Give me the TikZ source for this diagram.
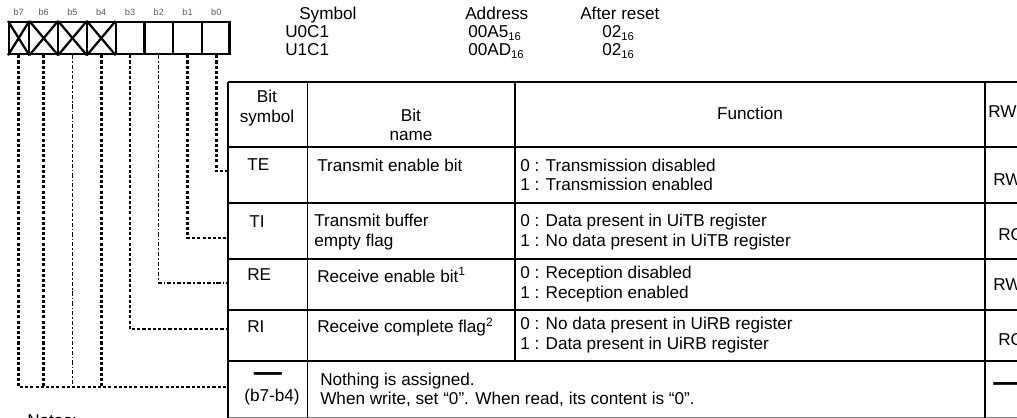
\documentclass[tikz,border=0pt]{standalone}
\usepackage{fontspec}
\setmainfont{Liberation Sans}
\usepackage{tikz}
\usetikzlibrary{shapes.multipart,positioning}
\usetikzlibrary{arrows.meta}
\newcommand{\hexsix}{\raisebox{-0.25ex}{\fontsize{8}{8}\selectfont 16}}

\begin{document}
\begin{tikzpicture}[x=0.025cm, y=-0.025cm,
  every node/.style={font=\fontsize{12.2}{13.8}\selectfont, inner sep=0pt},
  bitlabel/.style={font=\fontsize{6.5}{7}\selectfont, text=black!65},
  bitline/.style={line width=2pt, dash pattern=on 2.2pt off 1.5pt},
  thinbitline/.style={line width=0.9pt, dash pattern=on 3pt off 1.4pt on 1.2pt off 1.4pt},
  tabthick/.style={line width=1.6pt},
  tabthin/.style={line width=0.7pt}
  ]
  \useasboundingbox (0,0) rectangle (1017,418);
  \clip (0,0) rectangle (1017,418);

  \node (reg)
        [rectangle split, rectangle split horizontal,
         rectangle split parts=8, draw, line width=1.6pt,
         text width=0.477cm, text height=0.80cm, text depth=0pt,
         rectangle split empty part width=0.477cm,
         rectangle split empty part height=0.80cm,
         rectangle split empty part depth=0pt,
         anchor=north west
        ] at (8,21) {};
  \draw[line width=1.6pt] (reg.north west) -- (reg.one split south)
                          (reg.south west) -- (reg.one split north);
  \draw[line width=1.6pt] (reg.one split north) -- (reg.two split south)
                          (reg.one split south) -- (reg.two split north);
  \draw[line width=1.6pt] (reg.two split north) -- (reg.three split south)
                          (reg.two split south) -- (reg.three split north);
  \draw[line width=1.6pt] (reg.three split north) -- (reg.four split south)
                          (reg.three split south) -- (reg.four split north);

  \node (lb7) [bitlabel, above=1.2mm of reg.one north] {b7};
  \node (lb6) [bitlabel, above=1.2mm of reg.two north] {b6};
  \node (lb5) [bitlabel, above=1.2mm of reg.three north] {b5};
  \node (lb4) [bitlabel, above=1.2mm of reg.four north] {b4};
  \node (lb3) [bitlabel, above=1.2mm of reg.five north] {b3};
  \node (lb2) [bitlabel, above=1.2mm of reg.six north] {b2};
  \node (lb1) [bitlabel, above=1.2mm of reg.seven north] {b1};
  \node (lb0) [bitlabel, above=1.2mm of reg.eight north] {b0};

  \node (symHead) [anchor=base west] at (299,20) {Symbol};
  \node (symU0) [anchor=base west] at (285,38) {U0C1};
  \node (symU1) [anchor=base west] at (285,56) {U1C1};
  \node (adrHead) [anchor=base west] at (465,20) {Address};
  \node (adrU0) [anchor=base west] at (468,38) {00A5\hexsix};
  \node (adrU1) [anchor=base west] at (468,56) {00AD\hexsix};
  \node (rstHead) [anchor=base west] at (580,20) {After reset};
  \node (rstU0) [anchor=base west] at (602,38) {02\hexsix};
  \node (rstU1) [anchor=base west] at (602,56) {02\hexsix};

  % table
  \draw[tabthick] (228,82) -- (1030,82);
  \draw[tabthick] (228,147) -- (1030,147);
  \draw[tabthick] (228,203) -- (1030,203);
  \draw[tabthick] (228,259) -- (1030,259);
  \draw[tabthick] (228,310) -- (1030,310);
  \draw[tabthick] (228,361) -- (1030,361);
  \draw[tabthin, black!50] (228,417.5) -- (1030,417.5);
  \draw[tabthick] (228,82) -- (228,420);
  \draw[tabthin] (307,82) -- (307,420);
  \draw[tabthick] (515,82) -- (515,361);
  \draw[tabthick] (985,82) -- (985,420);

  \node (hSym) [align=center] at (267,108) {Bit\\symbol};
  \node (hName) [align=center] at (411,125) {Bit\\name};
  \node (hFunc) at (750,113) {Function};
  \node (hRW) [anchor=west] at (988,112) {RW};

  \node (teSym) [anchor=west] at (247,165) {TE};
  \node (teName) [anchor=west] at (317,165) {Transmit enable bit};
  \node (teFunc) [anchor=west, align=left] at (520,175)
        {0 : Transmission disabled\\1 : Transmission enabled};
  \node (teRW) [anchor=west] at (993,180) {RW};

  \node (tiSym) [anchor=west] at (249,222) {TI};
  \node (tiName) [anchor=west, align=left] at (314,232) {Transmit buffer\\empty flag};
  \node (tiFunc) [anchor=west, align=left] at (520,232)
        {0 : Data present in UiTB register\\1 : No data present in UiTB register};
  \node (tiRW) [anchor=west] at (998,235) {RO};

  \node (reSym) [anchor=west] at (247,275) {RE};
  \node (reName) [anchor=west] at (317,275) {Receive enable bit\textsuperscript{1}};
  \node (reFunc) [anchor=west, align=left] at (520,284)
        {0 : Reception disabled\\1 : Reception enabled};
  \node (reRW) [anchor=west] at (993,285) {RW};

  \node (riSym) [anchor=west] at (247,327) {RI};
  \node (riName) [anchor=west] at (317,327) {Receive complete flag\textsuperscript{2}};
  \node (riFunc) [anchor=west, align=left] at (520,335)
        {0 : No data present in UiRB register\\1 : Data present in UiRB register};
  \node (riRW) [anchor=west] at (998,340) {RO};

  \node (naDash) [font=\fontsize{20}{20}\selectfont\bfseries] at (268,377) {—};
  \node (naSym) at (272,397) {(b7-b4)};
  \node (naFunc) [anchor=west, align=left] at (320,390)
        {Nothing is assigned.\\When write, set “0”. When read, its content is “0”.};
  \node (naRW) [anchor=west, font=\fontsize{20}{20}\selectfont\bfseries] at (993,387) {—};

  \node (note) [anchor=north west] at (27,414) {Notes:};

  \coordinate (teIn) at (228,171);
  \coordinate (tiIn) at (228,238);
  \coordinate (reIn) at (228,283);
  \coordinate (riIn) at (228,329);
  \coordinate (naIn) at (228,387);

  \draw[bitline] (reg.eight south) |- (teIn);
  \draw[bitline] (reg.seven south) |- (tiIn);
  \draw[thinbitline] (reg.six south) |- (reIn);
  \draw[bitline] (reg.five south) |- (riIn);
  \draw[bitline] (reg.one south) |- (naIn);
  \draw[bitline] (reg.two south) -- (reg.two south |- naIn);
  \draw[thinbitline] (reg.three south) -- (reg.three south |- naIn);
  \draw[bitline] (reg.four south) -- (reg.four south |- naIn);
\end{tikzpicture}
\end{document}
